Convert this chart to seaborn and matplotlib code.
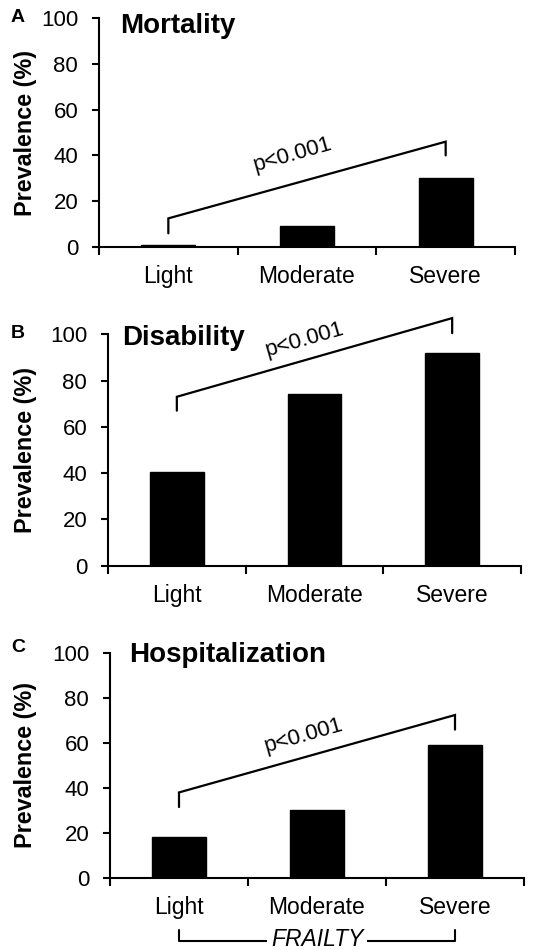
import matplotlib
matplotlib.use("Agg")
import matplotlib.pyplot as plt
import matplotlib.transforms as mtransforms
import seaborn as sns
import pandas as pd

categories = ["Light", "Moderate", "Severe"]
mortality = [0.8, 9, 30]
disability = [40.5, 74, 92]
hospitalization = [18, 30, 59]
panel_letters = ["A", "B", "C"]
titles = ["Mortality", "Disability", "Hospitalization"]
yticks = [0, 20, 40, 60, 80, 100]
ptext = "p<0.001"
ylabel = "Prevalence (%)"
xgroup_label = "FRAILTY"

sns.set_style("ticks")
plt.rcParams['font.family'] = ['Liberation Sans', 'DejaVu Sans']
plt.rcParams['text.color'] = 'black'
plt.rcParams['axes.labelcolor'] = 'black'
plt.rcParams['xtick.color'] = 'black'
plt.rcParams['ytick.color'] = 'black'
plt.rcParams['axes.edgecolor'] = 'black'

W, H = 533, 950
fig = plt.figure(figsize=(W / 100, H / 100), dpi=100)

# axes rectangles in pixels: left, right, top, bottom
rects = [(99, 515, 18, 247), (108, 521, 334.3, 565.7), (110, 524, 653.3, 877.7)]
values = [mortality, disability, hospitalization]
# bracket y (data units): left bottom, left top, right top, right bottom
brackets = [(6, 12.5, 46, 40), (67, 73, 107, 100.5), (31.5, 38, 72.5, 66)]
ptext_pos = [(0.90, 40.2), (0.93, 97.8), (0.90, 63.1)]
title_pos = [(-0.35, 93.3), (-0.40, 95.4), (-0.36, 96.3)]
letter_y = [18, 334, 648]

axes = []
for i in range(3):
    l, r, t, b = rects[i]
    ax = fig.add_axes([l / W, 1 - b / H, (r - l) / W, (b - t) / H])
    axes.append(ax)
    df = pd.DataFrame({"cat": categories, "val": values[i]})
    sns.barplot(data=df, x="cat", y="val", color="black", width=0.39,
                saturation=1, edgecolor="black", ax=ax)
    ax.set_xlim(-0.5, 2.5)
    ax.set_ylim(0, 100)
    ax.set_yticks(yticks)
    ax.set_xlabel("")
    ax.set_ylabel(ylabel, fontsize=16.8, fontweight="bold")
    ax.yaxis.set_label_coords(37 / W, 0.5,
                              transform=mtransforms.blended_transform_factory(fig.transFigure, ax.transAxes))
    for s in ["top", "right"]:
        ax.spines[s].set_visible(False)
    for s in ["left", "bottom"]:
        ax.spines[s].set_linewidth(1.5)
        ax.spines[s].set_color("black")
    ax.tick_params(axis="y", direction="out", length=5, width=1.5, labelsize=16, pad=10, colors="black")
    ax.tick_params(axis="x", which="major", length=0, labelsize=16.5, pad=13, colors="black")
    ax.set_xticks([-0.5, 0.5, 1.5, 2.5], minor=True)
    ax.tick_params(axis="x", which="minor", direction="out", length=6, width=1.5, color="black")

    # significance bracket
    lb, lt, rt, rb = brackets[i]
    ax.plot([0, 0, 2, 2], [lb, lt, rt, rb], color="black", lw=1.6, clip_on=False,
            solid_joinstyle="miter")
    tx, ty = ptext_pos[i]
    ax.text(tx, ty, ptext, rotation=16, ha="center", va="center", fontsize=16,
            rotation_mode="anchor")
    # title
    ax.text(title_pos[i][0], title_pos[i][1], titles[i], fontsize=20, fontweight="bold",
            ha="left", va="baseline")
    # panel letter
    fig.text(18 / W, 1 - letter_y[i] / H, panel_letters[i], fontsize=14, fontweight="bold",
             ha="center", va="center")

# FRAILTY bracket under bottom panel
axc = axes[2]
trans = mtransforms.blended_transform_factory(axc.transData, fig.transFigure)
y_line = 1 - 941 / H
y_top = 1 - 930 / H
axc.plot([0, 0, 2, 2], [y_top, y_line, y_line, y_top], color="black", lw=1.5,
         transform=trans, clip_on=False)
axc.text(1, 1 - 939 / H, xgroup_label, transform=trans, ha="center", va="center",
         fontsize=16.5, fontstyle="italic",
         bbox=dict(facecolor="white", edgecolor="none", pad=3))

fig.savefig("out.png", dpi=100, facecolor="white")
